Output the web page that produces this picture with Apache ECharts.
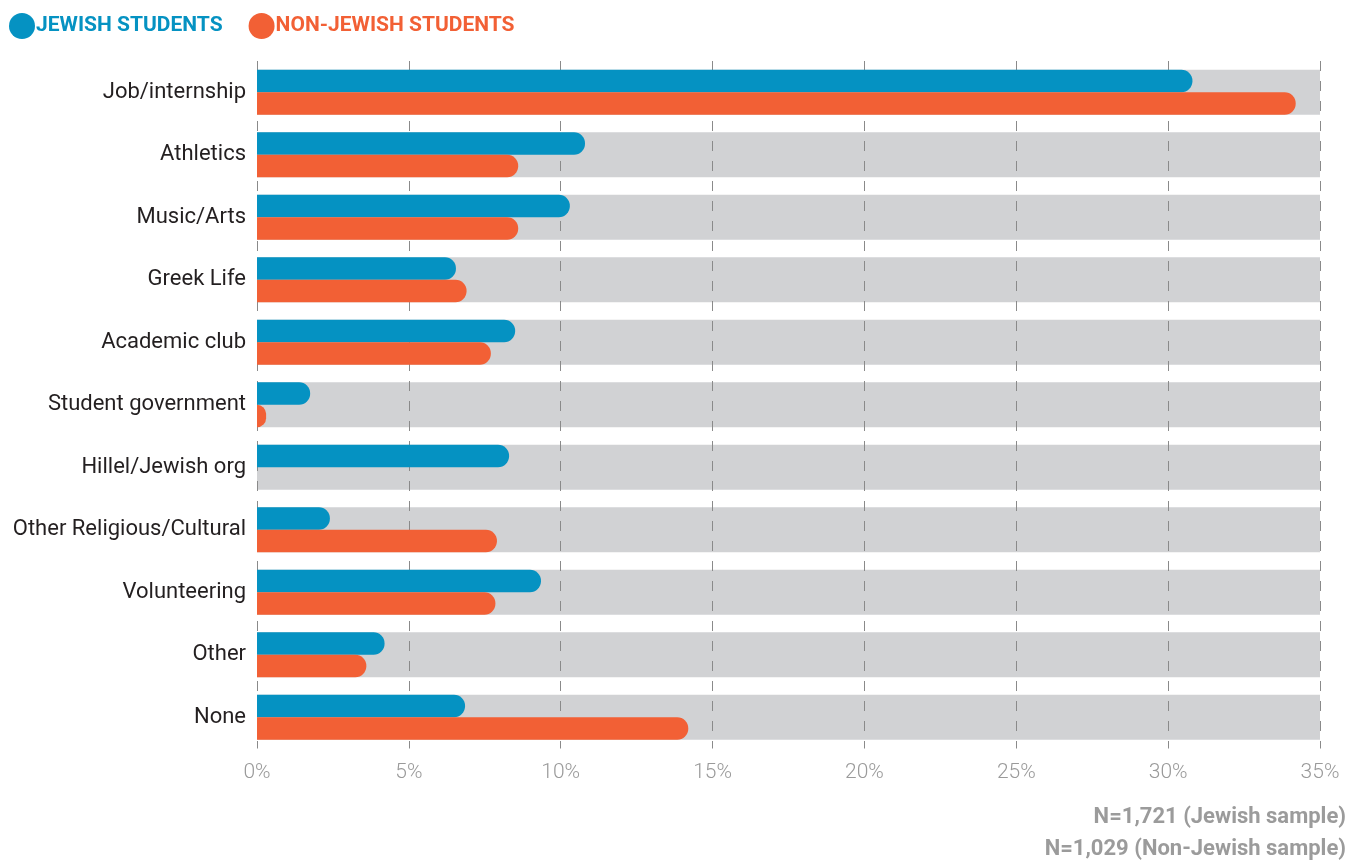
<!DOCTYPE html>
<html><head><meta charset="utf-8">
<script src="https://cdn.jsdelivr.net/npm/echarts@6/dist/echarts.min.js"></script>
<style>html,body{margin:0;padding:0;background:#fff}#c{width:1356px;height:861px}</style>
</head><body><div id="c"></div>
<script>
const categories = ['Job/internship','Athletics','Music/Arts','Greek Life','Academic club','Student government','Hillel/Jewish org','Other Religious/Cultural','Volunteering','Other','None'];
const jewish = [30.8, 10.8, 10.3, 6.55, 8.5, 1.75, 8.3, 2.4, 9.35, 4.2, 6.85];
const nonJewish = [34.2, 8.6, 8.6, 6.9, 7.7, 0.3, 0, 7.9, 7.85, 3.6, 14.2];
const axisMax = 35;
const background = categories.map(() => axisMax);
const seriesNames = ['JEWISH STUDENTS', 'NON-JEWISH STUDENTS'];
const notes = ['N=1,721 (Jewish sample)', 'N=1,029 (Non-Jewish sample)'];

const BLUE = '#0592c2', ORANGE = '#f26035';
const chart = echarts.init(document.getElementById('c'));
chart.setOption({
  animation: false,
  grid: {left: 257, right: 36, top: 61, bottom: 112.5},
  legend: {
    left: 4, top: 8, icon: 'circle', itemWidth: 26, itemHeight: 26, itemGap: 26,
    data: [
      {name: seriesNames[0], textStyle: {color: BLUE}},
      {name: seriesNames[1], textStyle: {color: ORANGE}}
    ],
    textStyle: {fontFamily: 'Roboto', fontWeight: 'bold', fontSize: 21, padding: [0,0,0,-4]}
  },
  graphic: notes.map((t, i) => ({
    type: 'text', right: 10, top: 806 + i * 32,
    style: {text: t, fill: '#9b9b9b', font: 'bold 22px Roboto', textAlign: 'right'}
  })),
  xAxis: {
    type: 'value', min: 0, max: axisMax, interval: 5,
    axisLine: {show: false}, axisTick: {show: false},
    axisLabel: {formatter: '{value}%', color: '#9a9a9a', fontFamily: 'Roboto', fontWeight: 300, fontSize: 21, margin: 14},
    splitLine: {show: true, lineStyle: {color: '#8a8a8a', width: 1, type: [10, 10]}}
  },
  yAxis: [
    {type: 'category', data: categories, inverse: true,
     axisLine: {show: false}, axisTick: {show: false},
     axisLabel: {color: '#231f20', fontFamily: 'Roboto', fontSize: 22, margin: 11}},
    {type: 'category', data: categories, inverse: true, show: false}
  ],
  series: [
    {type: 'bar', name: 'bg', yAxisIndex: 1, data: background, barWidth: 45, z: -1, silent: true,
     itemStyle: {color: '#d1d2d4'}},
    {type: 'bar', name: seriesNames[0], yAxisIndex: 0, data: jewish, barWidth: 22.5, barGap: '0%',
     itemStyle: {color: BLUE, borderRadius: [0, 11, 11, 0]}},
    {type: 'bar', name: seriesNames[1], yAxisIndex: 0, data: nonJewish, barWidth: 22.5, barGap: '0%',
     itemStyle: {color: ORANGE, borderRadius: [0, 11, 11, 0]}}
  ]
});
</script></body></html>
